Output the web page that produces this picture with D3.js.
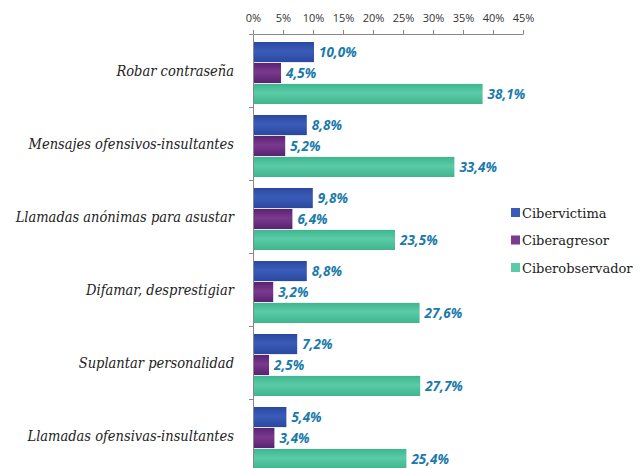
<!DOCTYPE html>
<html>
<head>
<meta charset="utf-8">
<script src="https://cdn.jsdelivr.net/npm/d3@7"></script>
<style>
  body { margin: 0; background: #fff; }
  svg { display: block; }
</style>
</head>
<body>
<div id="chart"></div>
<script>
// Data
var categories = ["Robar contraseña", "Mensajes ofensivos-insultantes", "Llamadas anónimas para asustar",
  "Difamar, desprestigiar", "Suplantar personalidad", "Llamadas ofensivas-insultantes"];
var seriesNames = ["Cibervictima", "Ciberagresor", "Ciberobservador"];
var cibervictima = [10.0, 8.8, 9.8, 8.8, 7.2, 5.4];
var ciberagresor = [4.5, 5.2, 6.4, 3.2, 2.5, 3.4];
var ciberobservador = [38.1, 33.4, 23.5, 27.6, 27.7, 25.4];
var tickValues = [0, 5, 10, 15, 20, 25, 30, 35, 40, 45];

var series = [cibervictima, ciberagresor, ciberobservador];
var colors = [["#2a48a0", "#3a5cb8"], ["#5a2270", "#7a3a8e"], ["#3fb58e", "#5acba6"]];

var width = 642, height = 468;
var plotLeft = 253, plotTop = 34, band = 73;

var svg = d3.select("#chart").append("svg")
  .attr("width", width).attr("height", height);

// gradients for the shaded bars
var defs = svg.append("defs");
colors.forEach(function(c, i) {
  var gr = defs.append("linearGradient").attr("id", "g" + i)
    .attr("x1", 0).attr("x2", 0).attr("y1", 0).attr("y2", 1);
  gr.append("stop").attr("offset", "0%").attr("stop-color", c[0]);
  gr.append("stop").attr("offset", "45%").attr("stop-color", c[1]);
  gr.append("stop").attr("offset", "100%").attr("stop-color", c[0]);
});

var x = d3.scaleLinear().domain([0, 45]).range([plotLeft, plotLeft + 270]);
var y = d3.scaleBand().domain(categories).range([plotTop, plotTop + band * categories.length]);
var ys = d3.scaleBand().domain(seriesNames).range([8, 70]).paddingInner(0.04);

var fmt = function(v) { return d3.format(".1f")(v).replace(".", ",") + "%"; };

// top axis
var xAxis = d3.axisTop(x).tickValues(tickValues).tickSize(4).tickSizeOuter(0)
  .tickFormat(function(d) { return d + "%"; });
var gx = svg.append("g").attr("transform", "translate(0," + plotTop + ")").call(xAxis);
gx.select(".domain").attr("stroke", "#888");
gx.selectAll(".tick line").attr("stroke", "#888");
gx.selectAll("text")
  .attr("fill", "#333")
  .style("font-family", "'Open Sans', sans-serif")
  .style("font-size", "11px")
  .attr("dy", "-0.5em");

// left axis line with ticks between categories
var yAxis = d3.axisLeft(d3.scaleLinear().domain([0, categories.length]).range([plotTop, plotTop + band * categories.length]))
  .ticks(categories.length).tickSize(4).tickSizeOuter(0).tickFormat("");
var gy = svg.append("g").attr("transform", "translate(" + plotLeft + ",0)").call(yAxis);
gy.select(".domain").attr("stroke", "#888");
gy.selectAll(".tick line").attr("stroke", "#888");

// category labels
svg.append("g").selectAll("text")
  .data(categories).enter().append("text")
  .attr("x", 234)
  .attr("y", function(d) { return y(d) + y.bandwidth() / 2; })
  .attr("dy", "0.35em")
  .attr("text-anchor", "end")
  .style("font-family", "'DejaVu Serif Condensed', 'DejaVu Serif', serif")
  .style("font-stretch", "condensed")
  .style("font-style", "italic")
  .style("font-size", "14.5px")
  .attr("fill", "#222")
  .text(function(d) { return d; });

// bars
series.forEach(function(vals, si) {
  var g = svg.append("g");
  g.selectAll("rect")
    .data(vals).enter().append("rect")
    .attr("x", x(0) + 1)
    .attr("y", function(d, i) { return y(categories[i]) + ys(seriesNames[si]); })
    .attr("width", function(d) { return x(d) - x(0); })
    .attr("height", ys.bandwidth())
    .attr("fill", "url(#g" + si + ")");
  g.selectAll("text")
    .data(vals).enter().append("text")
    .attr("x", function(d) { return x(d) + 6; })
    .attr("y", function(d, i) { return y(categories[i]) + ys(seriesNames[si]) + ys.bandwidth() / 2; })
    .attr("dy", "0.35em")
    .style("font-family", "'Open Sans', sans-serif")
    .style("font-style", "italic")
    .style("font-weight", "bold")
    .style("font-size", "13.5px")
    .attr("fill", "#1a7aab")
    .text(fmt);
});

// legend
var legend = svg.append("g").selectAll("g")
  .data(seriesNames).enter().append("g")
  .attr("transform", function(d, i) { return "translate(511," + (213 + i * 27.5) + ")"; });
legend.append("rect")
  .attr("x", 0).attr("y", -5).attr("width", 9).attr("height", 9)
  .attr("fill", function(d, i) { return colors[i][1]; });
legend.append("text")
  .attr("x", 11).attr("y", 0).attr("dy", "0.35em")
  .style("font-family", "'DejaVu Serif', serif")
  .style("font-size", "13px")
  .attr("fill", "#222")
  .text(function(d) { return d; });
</script>
</body>
</html>
